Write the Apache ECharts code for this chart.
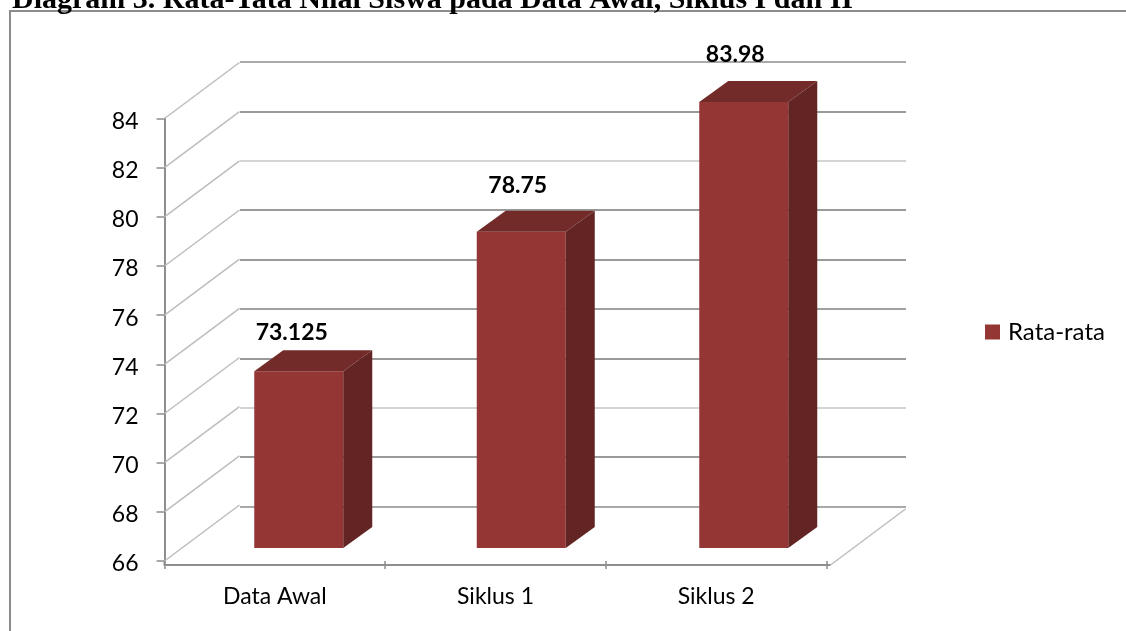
<!DOCTYPE html>
<html>
<head>
<meta charset="utf-8">
<title>Diagram 3</title>
<script src="https://cdn.jsdelivr.net/npm/echarts@6/dist/echarts.min.js"></script>
<style>
  html, body { margin: 0; padding: 0; background: #fff; }
  #chart { width: 1126px; height: 631px; }
</style>
</head>
<body>
<div id="chart"></div>
<script>
// data
var chartTitle = 'Diagram 3. Rata-Tata Nilai Siswa pada Data Awal, Siklus I dan II';
var seriesName = 'Rata-rata';
var categories = ['Data Awal', 'Siklus 1', 'Siklus 2'];
var values = [73.125, 78.75, 83.98];
var yTicks = [66, 68, 70, 72, 74, 76, 78, 80, 82, 84];

// fake 3d look
var wallDepth = [75, -56];
var barDepth = [29, -21];
var labelFont = 'Lato, "Noto Sans", sans-serif';
var axisColor = '#8e8e8e';
var wallColor = '#bdbdbd';
// back wall lines are not all the same grey in the original, bottom to top
var backLineColors = ['#a9a9a9', '#9a9a9a', '#d4d4d4', '#9a9a9a', '#a0a0a0', '#9a9a9a', '#9a9a9a', '#d4d4d4', '#9a9a9a', '#a9a9a9'];
var labelNudge = [[-7, -39], [-3.5, -46], [-8.5, -48]];

function renderWall(params, api) {
  var tick = api.value(0);
  var x = params.coordSys.x;
  var y = api.coord([0, tick])[1];
  var children = [{
    type: 'line',
    shape: { x1: x, y1: y, x2: x + wallDepth[0], y2: y + wallDepth[1] },
    style: { stroke: wallColor, lineWidth: 1.5 }
  }];
  if (tick === yTicks[0]) {
    // floor: right edge, and the stubs joining the axes up
    var right = x + params.coordSys.width;
    var floorY = y + 4;
    var floorEnd = right + 4;
    children.push({
      type: 'line',
      shape: { x1: floorEnd, y1: floorY, x2: floorEnd + wallDepth[0], y2: floorY + wallDepth[1] },
      style: { stroke: wallColor, lineWidth: 1.5 }
    });
    children.push({
      type: 'line',
      shape: { x1: x, y1: y, x2: x, y2: floorY },
      style: { stroke: axisColor, lineWidth: 2 }
    });
    children.push({
      type: 'line',
      shape: { x1: right, y1: floorY, x2: floorEnd, y2: floorY },
      style: { stroke: axisColor, lineWidth: 2 }
    });
  }
  return { type: 'group', silent: true, children: children };
}

function renderBar(params, api) {
  var idx = api.value(0);
  var val = api.value(1);
  var top = api.coord([idx, val]);
  var base = api.coord([idx, yTicks[0]]);
  var w = api.size([1, 0])[0] * 0.4;
  var x0 = top[0] - w / 2;
  var x1 = top[0] + w / 2;
  var dx = barDepth[0];
  var dy = barDepth[1];
  var nudge = labelNudge[idx];
  return {
    type: 'group',
    children: [
      { type: 'rect', shape: { x: x0, y: top[1], width: w, height: base[1] - top[1] }, style: { fill: '#943634' } },
      {
        type: 'polygon',
        shape: { points: [[x1, top[1]], [x1 + dx, top[1] + dy], [x1 + dx, base[1] + dy], [x1, base[1]]] },
        style: { fill: '#632523' }
      },
      {
        type: 'polygon',
        shape: { points: [[x0, top[1]], [x0 + dx, top[1] + dy], [x1 + dx, top[1] + dy], [x1, top[1]]] },
        style: { fill: '#722b29' }
      },
      {
        type: 'text',
        style: {
          x: top[0] + nudge[0],
          y: top[1] + nudge[1],
          text: String(val),
          fill: '#000',
          font: 'bold 23px ' + labelFont,
          align: 'center',
          verticalAlign: 'middle'
        }
      }
    ]
  };
}

var myChart = echarts.init(document.getElementById('chart'));
myChart.setOption({
  animation: false,
  backgroundColor: '#fff',
  title: {
    text: chartTitle,
    left: 12,
    top: -15,
    padding: 0,
    textStyle: { fontFamily: '"Liberation Serif", serif', fontWeight: 'bold', fontSize: 30, color: '#000' }
  },
  legend: {
    data: [seriesName],
    left: 985,
    top: 320,
    padding: 0,
    icon: 'rect',
    itemWidth: 15,
    itemHeight: 15,
    itemGap: 8,
    textStyle: { fontFamily: labelFont, fontSize: 24, color: '#000', padding: [0, 0, 0, 3] }
  },
  grid: [
    // front plane: axes and labels
    { left: 164.5, top: 118.5, width: 662, height: 442.5 },
    // back wall
    { left: 240, top: 62, width: 666, height: 444.5 },
    // plane the bars stand on
    { left: 187.5, top: 101.6, width: 667.5, height: 446.4 }
  ],
  xAxis: [
    {
      type: 'category', gridIndex: 0, data: categories, offset: 4, position: 'bottom',
      axisLine: { show: true, lineStyle: { color: axisColor, width: 2 } },
      axisTick: { show: true, length: 4, lineStyle: { color: axisColor, width: 1.5 } },
      axisLabel: { fontFamily: labelFont, fontSize: 23, color: '#000', margin: 20 }
    },
    { type: 'category', gridIndex: 1, data: categories, show: false },
    { type: 'category', gridIndex: 2, data: categories, show: false },
    {
      type: 'category', gridIndex: 0, data: categories, offset: 4, position: 'bottom',
      axisLine: { show: false },
      axisTick: { show: true, inside: true, length: 4, lineStyle: { color: axisColor, width: 1.5 } },
      axisLabel: { show: false }
    }
  ],
  yAxis: [
    {
      type: 'value', gridIndex: 0, min: yTicks[0], max: yTicks[yTicks.length - 1], interval: 2,
      axisLine: { show: true, lineStyle: { color: axisColor, width: 2 } },
      axisTick: { show: true, length: 8, lineStyle: { color: axisColor, width: 1.5 } },
      axisLabel: {
        margin: 26,
        formatter: '{v|{value}}',
        rich: { v: { fontFamily: labelFont, fontSize: 23, color: '#000', padding: [6, 0, 0, 0] } }
      },
      splitLine: { show: false }
    },
    {
      type: 'value', gridIndex: 1, min: yTicks[0], max: yTicks[yTicks.length - 1], interval: 2,
      axisLine: { show: false },
      axisTick: { show: false },
      axisLabel: { show: false },
      splitLine: { show: true, showMinLine: true, showMaxLine: true, lineStyle: { color: backLineColors, width: 2 } }
    },
    {
      type: 'value', gridIndex: 2, min: yTicks[0], max: yTicks[yTicks.length - 1], interval: 2,
      show: false, splitLine: { show: false }
    }
  ],
  series: [
    {
      type: 'custom',
      xAxisIndex: 0,
      yAxisIndex: 0,
      clip: false,
      silent: true,
      encode: { y: 0 },
      data: yTicks.map(function (t) { return [t]; }),
      renderItem: renderWall,
      z: 1
    },
    {
      name: seriesName,
      type: 'custom',
      xAxisIndex: 2,
      yAxisIndex: 2,
      clip: false,
      itemStyle: { color: '#943634' },
      encode: { x: 0, y: 1 },
      data: values.map(function (v, i) { return [i, v]; }),
      renderItem: renderBar,
      z: 2
    }
  ],
  graphic: [{
    type: 'polyline',
    silent: true,
    shape: { points: [[10, 631], [10, 11], [1126, 11]] },
    style: { stroke: '#8c8c8c', lineWidth: 2, fill: null }
  }]
});
</script>
</body>
</html>
